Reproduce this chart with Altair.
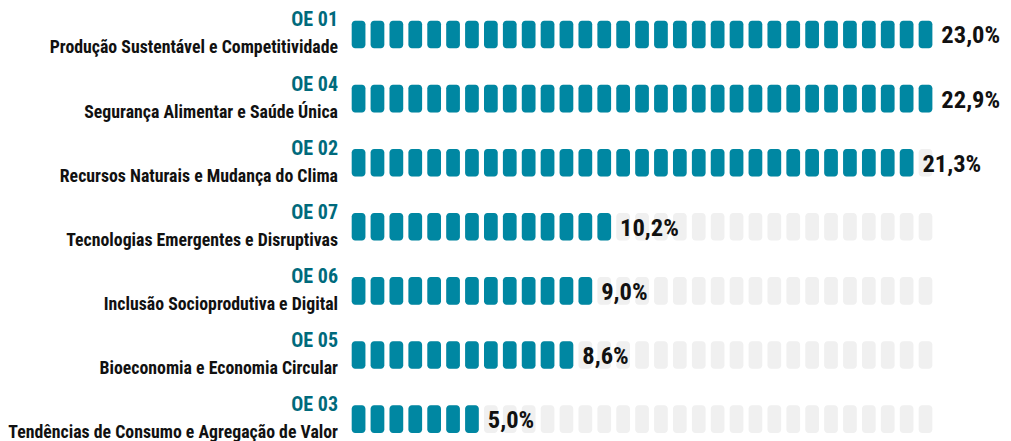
import altair as alt
import pandas as pd

codes = ["OE 01", "OE 04", "OE 02", "OE 07", "OE 06", "OE 05", "OE 03"]
names = [
    "Produção Sustentável e Competitividade",
    "Segurança Alimentar e Saúde Única",
    "Recursos Naturais e Mudança do Clima",
    "Tecnologias Emergentes e Disruptivas",
    "Inclusão Socioprodutiva e Digital",
    "Bioeconomia e Economia Circular",
    "Tendências de Consumo e Agregação de Valor",
]
values = [23.0, 22.9, 21.3, 10.2, 9.0, 8.6, 5.0]
labels = ["23,0%", "22,9%", "21,3%", "10,2%", "9,0%", "8,6%", "5,0%"]
filled = [31, 31, 30, 14, 13, 12, 7]
total_slots = 31

rows = pd.DataFrame({
    "row": list(range(len(codes))),
    "code": codes,
    "name": names,
    "value": values,
    "label": labels,
    "filled": filled,
})
slots = pd.DataFrame(
    [{"row": r, "slot": s, "on": s < filled[r]} for r in range(len(codes)) for s in range(total_slots)]
)

FONT = "Roboto Condensed, Roboto, sans-serif"
BLUE = "#0087a2"
GREY = "#f0f0f0"
TEAL = "#006a7c"

W, H = 995, 433
HALF_W = 0.3625
HALF_H = 0.215

xs = alt.Scale(domain=[-18.55, 34.1])
ys = alt.Scale(domain=[-0.4134, 6.3416], reverse=True)

base_slots = alt.Chart(slots).transform_calculate(
    x0=f"datum.slot - {HALF_W}", x1=f"datum.slot + {HALF_W}",
    y0=f"datum.row - {HALF_H}", y1=f"datum.row + {HALF_H}",
)

grey = base_slots.mark_rect(cornerRadius=3.5, color=GREY).encode(
    x=alt.X("x0:Q", scale=xs, axis=None),
    x2="x1:Q",
    y=alt.Y("y0:Q", scale=ys, axis=None),
    y2="y1:Q",
)
blue = base_slots.transform_filter("datum.on").mark_rect(cornerRadius=3.5, color=BLUE).encode(
    x=alt.X("x0:Q", scale=xs, axis=None),
    x2="x1:Q",
    y=alt.Y("y0:Q", scale=ys, axis=None),
    y2="y1:Q",
)

base_rows = alt.Chart(rows)

value_text = base_rows.transform_calculate(
    xe=f"datum.filled - 1 + {HALF_W}"
).mark_text(
    font=FONT, fontSize=24.5, fontWeight="bold", color="#111111",
    align="left", baseline="alphabetic", dx=9, dy=9,
).encode(
    x=alt.X("xe:Q", scale=xs, axis=None),
    y=alt.Y("row:Q", scale=ys, axis=None),
    text="label:N",
)

code_text = base_rows.mark_text(
    font=FONT, fontSize=20, fontWeight="bold", color=TEAL,
    align="right", baseline="alphabetic", dy=-8,
).encode(
    x=alt.value(330),
    y=alt.Y("row:Q", scale=ys, axis=None),
    text="code:N",
)

name_text = base_rows.mark_text(
    font=FONT, fontSize=17.8, fontWeight="bold", color="#111111",
    align="right", baseline="alphabetic", dy=19,
).encode(
    x=alt.value(330),
    y=alt.Y("row:Q", scale=ys, axis=None),
    text="name:N",
)

chart = alt.layer(grey, blue, value_text, code_text, name_text).properties(
    width=W, height=H, autosize=alt.AutoSizeParams(type="none"), padding=0,
).configure(background="white").configure_view(stroke=None)

chart.save("out.html", embed_options={"renderer": "svg", "actions": False})
